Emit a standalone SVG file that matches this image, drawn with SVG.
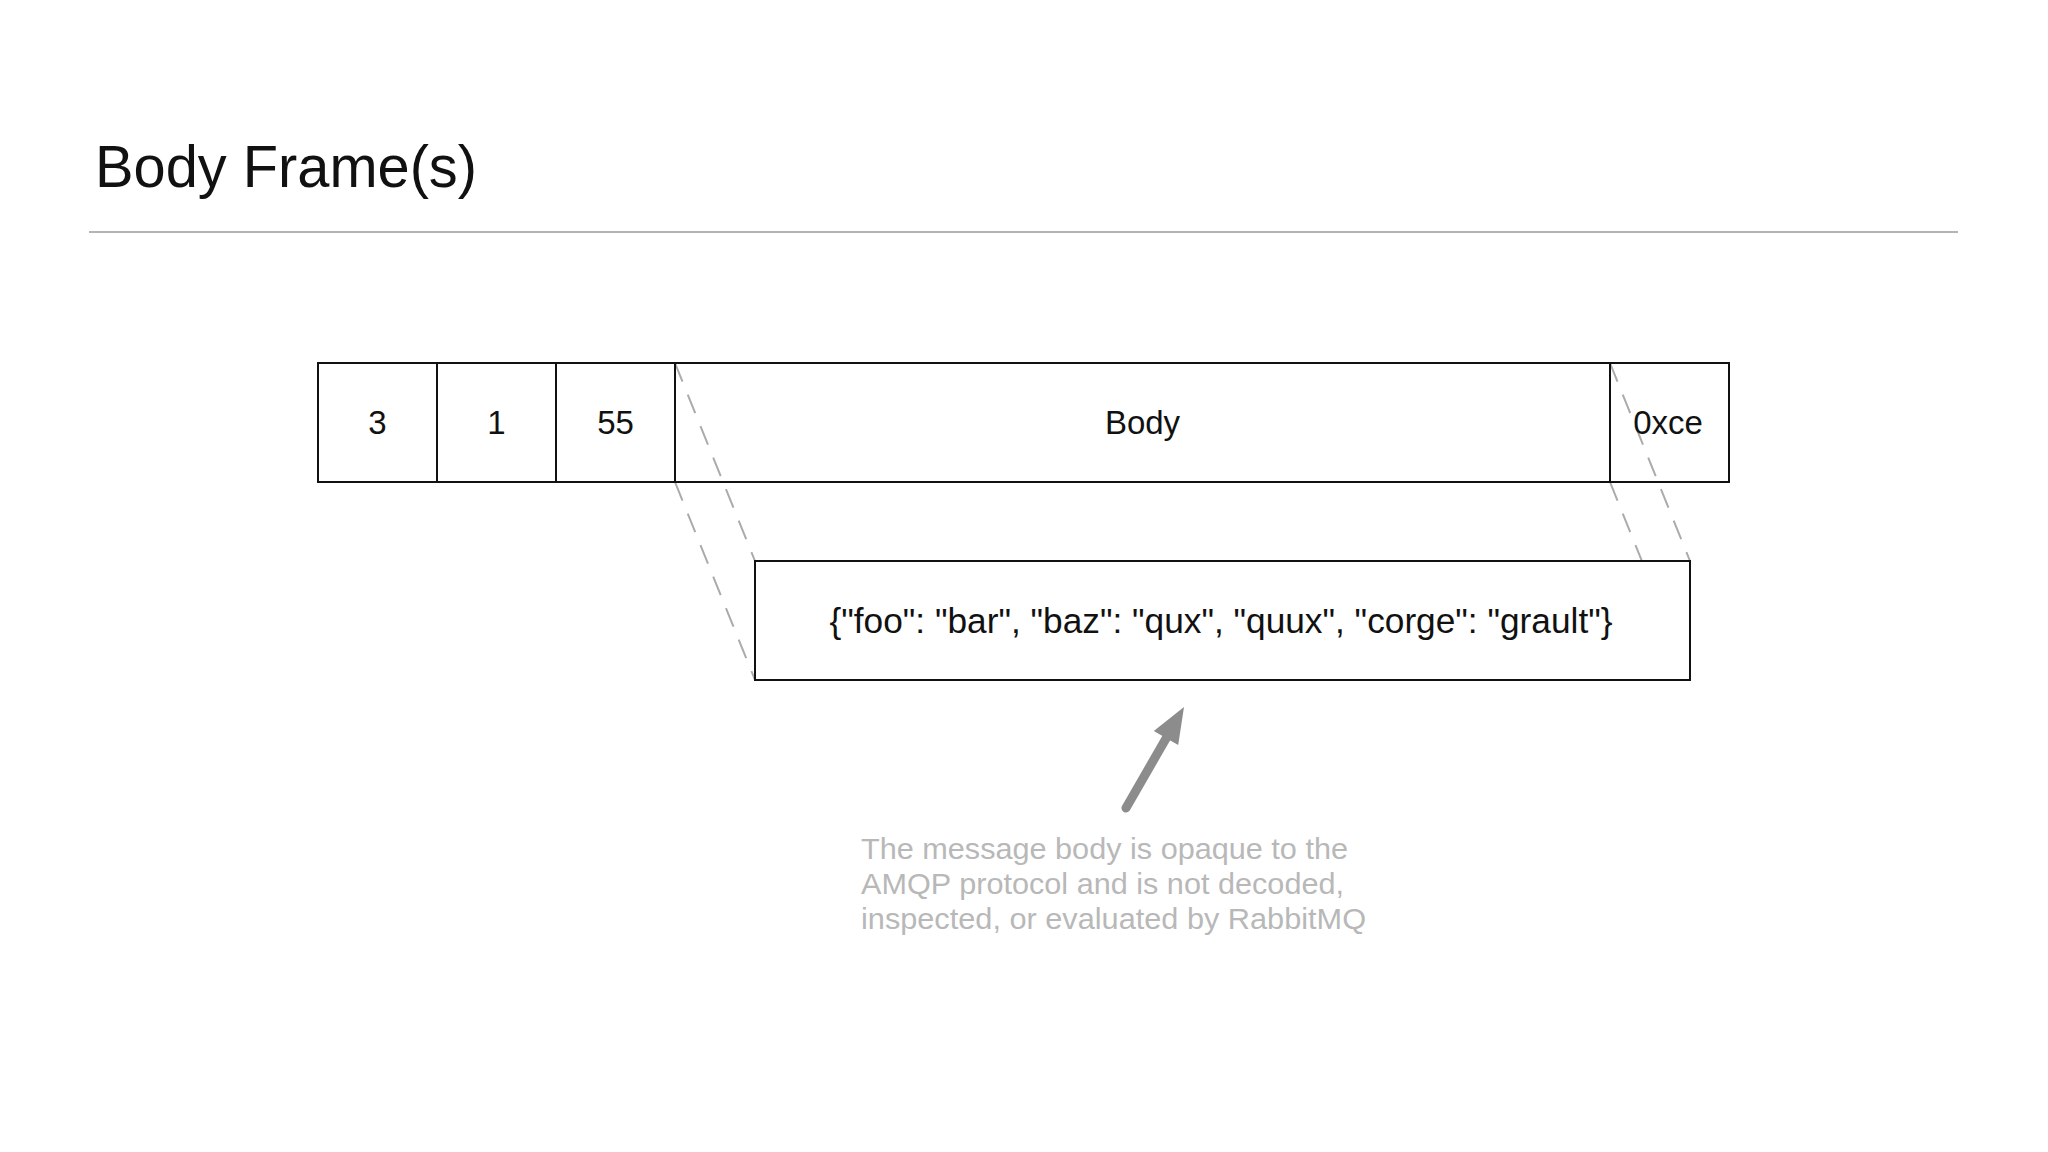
<svg xmlns="http://www.w3.org/2000/svg" width="2048" height="1152" viewBox="0 0 2048 1152">
  <style>
    text { font-family: "Liberation Sans", Arial, Helvetica, sans-serif; }
    .title { font-size: 60px; fill: #111; }
    .cell { fill: #fff; stroke: #111; stroke-width: 2; }
    .cell-text { font-size: 33px; fill: #111; text-anchor: middle; }
    .json { font-size: 35.5px; fill: #111; text-anchor: middle; }
    .dash { stroke: #ababab; stroke-width: 2; stroke-dasharray: 20 14; fill: none; }
    .caption { font-size: 30px; fill: #b8b8b8; }
    .rule { stroke: #b4b4b4; stroke-width: 2; }
  </style>

  <rect width="2048" height="1152" fill="#ffffff"/>

  <g id="title">
    <text class="title" x="95" y="187" textLength="382" lengthAdjust="spacingAndGlyphs">Body Frame(s)</text>
    <line class="rule" x1="89" y1="232" x2="1958" y2="232"/>
  </g>

  <g id="connectors">
    <line class="dash" x1="675" y1="363" x2="755" y2="561"/>
    <line class="dash" x1="675" y1="482" x2="755" y2="680"/>
    <line class="dash" x1="1610" y1="363" x2="1690" y2="561"/>
    <line class="dash" x1="1610" y1="482" x2="1690" y2="680"/>
  </g>

  <g id="frame">
    <g id="cell-type">
      <rect class="cell" x="318" y="363" width="119" height="119"/>
      <text class="cell-text" x="377.5" y="434">3</text>
    </g>
    <g id="cell-channel">
      <rect class="cell" x="437" y="363" width="119" height="119"/>
      <text class="cell-text" x="496.5" y="434">1</text>
    </g>
    <g id="cell-size">
      <rect class="cell" x="556" y="363" width="119" height="119"/>
      <text class="cell-text" x="615.5" y="434">55</text>
    </g>
    <g id="cell-body">
      <rect class="cell" x="675" y="363" width="935" height="119" style="fill:none"/>
      <text class="cell-text" x="1142.5" y="434">Body</text>
    </g>
    <g id="cell-end">
      <rect class="cell" x="1610" y="363" width="119" height="119" style="fill:none"/>
      <text class="cell-text" x="1668" y="434">0xce</text>
    </g>
  </g>

  <g id="payload">
    <rect class="cell" x="755" y="561" width="935" height="119"/>
    <text class="json" x="1221" y="633" textLength="783" lengthAdjust="spacingAndGlyphs">{"foo": "bar", "baz": "qux", "quux", "corge": "grault"}</text>
  </g>

  <g id="note">
    <line x1="1126" y1="808" x2="1168" y2="735" stroke="#8c8c8c" stroke-width="9" stroke-linecap="round"/>
    <polygon points="1184,707 1153.8,731 1178.2,745" fill="#8c8c8c"/>
    <text class="caption" x="861" y="859" textLength="487" lengthAdjust="spacingAndGlyphs">The message body is opaque to the</text>
    <text class="caption" x="861" y="894" textLength="483" lengthAdjust="spacingAndGlyphs">AMQP protocol and is not decoded,</text>
    <text class="caption" x="861" y="929" textLength="505" lengthAdjust="spacingAndGlyphs">inspected, or evaluated by RabbitMQ</text>
  </g>
</svg>
